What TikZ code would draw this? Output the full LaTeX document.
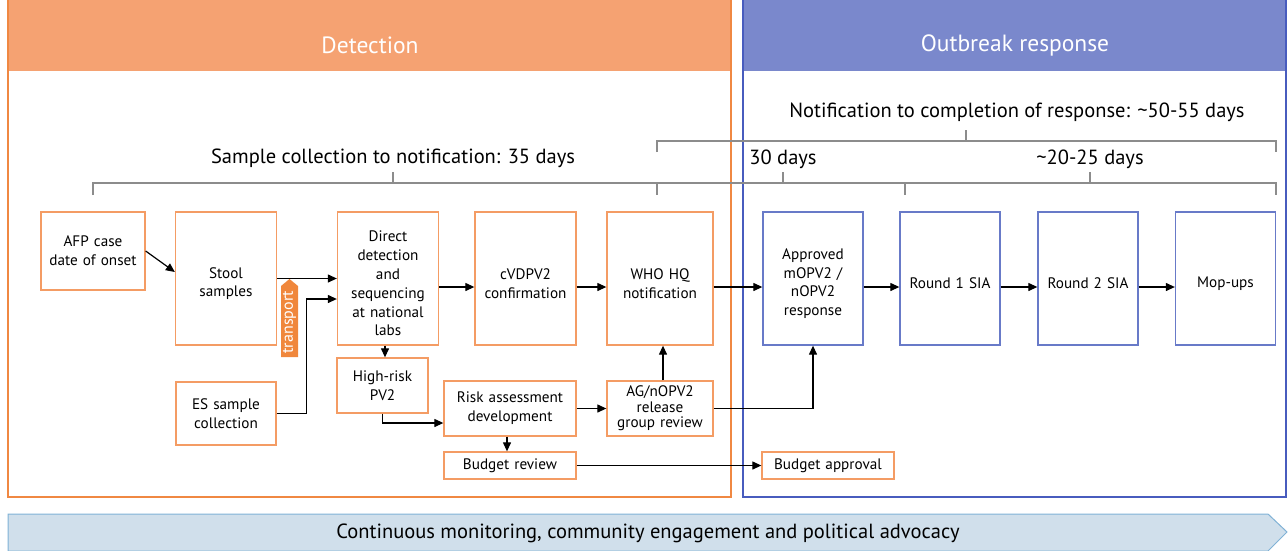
\documentclass[tikz,border=0pt]{standalone}
\usepackage{fontspec}
\setmainfont{PT Sans}
\usetikzlibrary{arrows.meta}
\definecolor{detorange}{RGB}{240,136,66}
\definecolor{dethead}{RGB}{245,162,114}
\definecolor{boxorange}{RGB}{244,156,100}
\definecolor{tagorange}{RGB}{240,135,60}
\definecolor{resblue}{RGB}{72,92,190}
\definecolor{reshead}{RGB}{122,136,204}
\definecolor{boxblue}{RGB}{104,122,200}
\definecolor{brkgray}{RGB}{140,140,140}
\definecolor{bandfill}{RGB}{208,223,235}
\definecolor{bandline}{RGB}{128,178,214}

\begin{document}
\begin{tikzpicture}[x=1pt,y=-1pt,
    box/.style={draw=boxorange,line width=1.3pt,align=center,inner sep=0pt,
      font=\fontsize{15.2}{18.8}\selectfont},
    rbox/.style={box,draw=boxblue},
    mainbox/.style={minimum width=101,minimum height=133,text width=96,
      execute at begin node=\rule{0pt}{21pt}},
    arr/.style={-{Triangle[length=9pt,width=8pt]},line width=1.2pt},
    brk/.style={draw=brkgray,line width=1.8pt},
    span/.style={font=\fontsize{20.5}{24}\selectfont},
    head/.style={white,font=\fontsize{23.5}{26}\selectfont}]
  \useasboundingbox (0,0) rectangle (1288,550);

  % panels
  \fill[dethead] (8,0) rectangle (731,71);
  \draw[detorange,line width=2pt] (8,-3) rectangle (731,497);
  \node[head] (dettitle) at (370,45) {Detection};
  \fill[reshead] (743,0) rectangle (1286,71);
  \draw[resblue,line width=2pt] (743,-3) rectangle (1286,497);
  \node[head] (restitle) at (1015,45) {Outbreak response};

  % time spans
  \draw[brk] (657,152) -- (657,141) -- (1276,141) -- (1276,152);
  \draw[brk] (966,141) -- (966,130);
  \node[span] (total) at (1017,112) {Notification to completion of response: \textasciitilde 50-55 days};
  \draw[brk] (93,195) -- (93,183) -- (1276,183) -- (1276,195);
  \draw[brk] (657,183) -- (657,195);
  \draw[brk] (905,183) -- (905,195);
  \draw[brk] (393,183) -- (393,172);
  \draw[brk] (783,183) -- (783,172);
  \draw[brk] (1090,183) -- (1090,172);
  \node[span] (detspan) at (393,158) {Sample collection to notification: 35 days};
  \node[span] (apprspan) at (783,159) {30 days};
  \node[span] (siaspan) at (1090,159) {\textasciitilde 20-25 days};

  % boxes
  \node[box,minimum width=104,minimum height=78,text width=100] (afp) at (93,251) {AFP case\\date of onset};
  \node[box,mainbox] (stool) at (226,278.5) {Stool\\samples};
  \node[box,mainbox] (direct) at (388,278.5) {Direct\\detection\\and\\sequencing\\at national\\labs};
  \node[box,mainbox] (cvd) at (525.5,278.5) {cVDPV2\\confirmation};
  \node[box,mainbox,minimum width=106] (who) at (660,278.5) {WHO HQ\\notification};
  \node[rbox,mainbox,minimum width=100] (approved) at (813,278.5) {Approved\\mOPV2 /\\nOPV2\\response};
  \node[rbox,mainbox,minimum width=100] (round1) at (950,278.5) {Round 1 SIA};
  \node[rbox,mainbox,minimum width=100] (round2) at (1088,278.5) {Round 2 SIA};
  \node[rbox,mainbox,minimum width=100] (mopups) at (1225.5,278.5) {Mop-ups};
  \node[box,minimum width=91,minimum height=55,text width=88] (highrisk) at (382.5,385.5) {High-risk\\PV2};
  \node[box,minimum width=100,minimum height=63,text width=96] (es) at (226,413.5) {ES sample\\collection};
  \node[box,minimum width=132,minimum height=55,text width=128] (risk) at (510,408.5) {Risk assessment\\development};
  \node[box,minimum width=106,minimum height=55,text width=104,
    font=\fontsize{15.2}{15.5}\selectfont] (ag) at (660,408.5) {AG/nOPV2\\release\\group review};
  \node[box,minimum width=132,minimum height=27,text width=128] (budget) at (510,465.5) {Budget review};
  \node[box,minimum width=132,minimum height=27,text width=128] (approval) at (828,465.5) {Budget approval};

  % transport tag
  \fill[tagorange] (281,357) -- (281,286) -- (289.5,279) -- (298,286) -- (298,357) -- cycle;
  \node[rotate=90,white,font=\fontsize{16}{18}\selectfont] (transport) at (289.5,322) {transport};

  % flow
  \draw[arr] (afp.east) -- ([yshift=6.5pt]stool.west);
  \draw[arr] (stool.east) -- (direct.west);
  \draw[arr] (es.east) -- ++(30,0) |- ([yshift=-20.5pt]direct.west);
  \draw[arr] ([yshift=-8.5pt]direct.east) -- ([yshift=-8.5pt]cvd.west);
  \draw[arr] ([yshift=-8.5pt]cvd.east) -- ([yshift=-8.5pt]who.west);
  \draw[arr] ([yshift=-8.5pt]who.east) -- ([yshift=-8.5pt]approved.west);
  \draw[arr] ([yshift=-8.5pt]approved.east) -- ([yshift=-8.5pt]round1.west);
  \draw[arr] ([yshift=-8.5pt]round1.east) -- ([yshift=-8.5pt]round2.west);
  \draw[arr] ([yshift=-8.5pt]round2.east) -- ([yshift=-8.5pt]mopups.west);
  \draw[arr] ([xshift=-3pt]direct.south) -- ([xshift=-3pt]direct.south |- highrisk.north);
  \draw[arr] (highrisk.south) |- ([yshift=-14.5pt]risk.west);
  \draw[arr] (risk.east) -- (ag.west);
  \draw[arr] ([xshift=3pt]ag.north) -- ([xshift=3pt]ag.north |- who.south);
  \draw[arr] (ag.east) -| (approved.south);
  \draw[arr] ([xshift=-3pt]risk.south) -- ([xshift=-3pt]budget.north);
  \draw[arr] (budget.east) -- (approval.west);

  % bottom band
  \draw[bandline,fill=bandfill,line width=1pt] (8,514) -- (1268,514) -- (1287,532) -- (1268,551) -- (8,551) -- cycle;
  \node[span] (band) at (648,533) {Continuous monitoring, community engagement and political advocacy};
\end{tikzpicture}
\end{document}
